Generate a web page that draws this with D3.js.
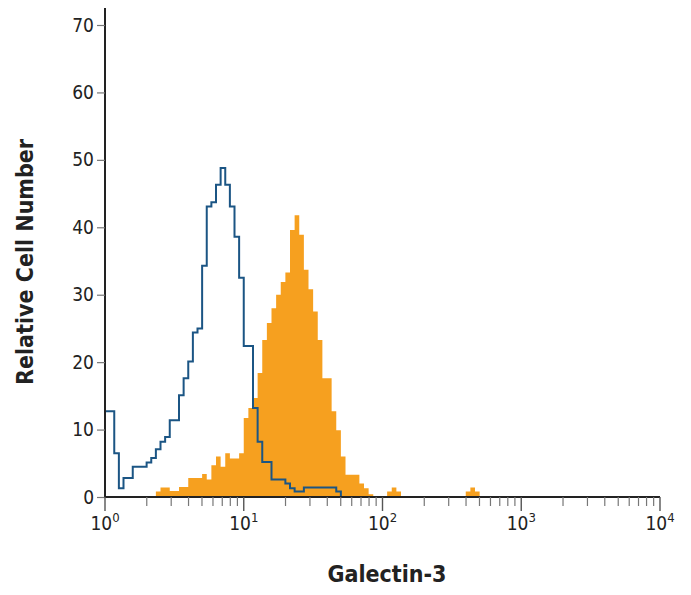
<!DOCTYPE html>
<html><head><meta charset="utf-8">
<script src="https://cdn.jsdelivr.net/npm/d3@7"></script>
<style>body{margin:0;background:#fff}</style></head>
<body><svg id="c" width="691" height="595"></svg>
<script>
const binsPerDecade = 30;
const yTicks = [0,10,20,30,40,50,60,70];
const xTickExps = [0,1,2,3,4];
const isotype = [12.7,12.7,6.5,1.3,2.8,2.8,4.5,4.5,4.5,5.1,5.8,7.1,8.2,8.9,11.4,11.4,15.1,17.6,20.1,24.4,25.0,34.3,43.1,43.7,46.3,48.8,46.3,43.1,38.6,32.5,22.4,22.4,13.2,8.2,5.2,5.2,2.6,2.6,2.6,2.0,1.3,0.8,0.8,1.4,1.4,1.4,1.4,1.4,1.4,1.4,0.8];
const galectin = [0,0,0,0,0,0,0,0,0,0,0,0.8,1.4,1.4,0.9,0.9,1.5,1.5,2.8,2.8,2.8,3.4,2.6,4.7,6.0,4.5,6.5,5.7,5.7,6.5,11.7,13.2,14.7,18.4,23.3,25.8,28,30,31.9,33.3,39.6,41.8,38.9,33.7,30.8,27.5,23.3,17.6,17.6,12.7,9.9,6.0,3.3,3.3,3.3,2.0,1.3,0.4,0,0,0,0.8,1.4,0.8,0,0,0,0,0,0,0,0,0,0,0,0,0,0,0.8,1.4,0.8];
const nBins = 120;
const pad = a => a.concat(new Array(nBins - a.length).fill(0));

const svg = d3.select("#c");
const x = d3.scaleLog().domain([1,1e4]).range([105,660]);
const y = d3.scaleLinear().domain([0,70]).range([497,25]);
const font = "'DejaVu Sans Condensed','Liberation Sans Narrow','Liberation Sans',sans-serif";

function stepPts(arr){
  const pts=[];
  arr.forEach((v,i)=>{
    const a=Math.pow(10,i/binsPerDecade), b=Math.pow(10,(i+1)/binsPerDecade);
    pts.push([a,v],[b,v]);
  });
  return pts;
}
const g = pad(galectin), b = pad(isotype);
svg.append("path").attr("d", d3.area().x(d=>x(d[0])).y0(y(0)).y1(d=>y(d[1]))(stepPts(g)))
  .attr("fill","#f6a01f");
svg.append("path").attr("d", d3.line().x(d=>x(d[0])).y(d=>y(d[1]))(stepPts(b)))
  .attr("fill","none").attr("stroke","#1b5584").attr("stroke-width",2);

// y axis
const ya = svg.append("g").attr("transform","translate(105,0)")
  .call(d3.axisLeft(y).tickValues(yTicks).tickSize(8).tickFormat(d3.format("d")));
ya.select(".domain").attr("d","M0,8V497").attr("stroke","#222").attr("stroke-width",2);
ya.selectAll(".tick line").attr("stroke","#777").attr("stroke-width",1.2);
ya.selectAll("text").attr("font-family",font).attr("font-size",19).attr("fill","#222").attr("x",-11);

// x axis
const minor = [];
for(let e=0;e<4;e++) for(let k=2;k<=9;k++) minor.push(k*Math.pow(10,e));
const xa = svg.append("g").attr("transform","translate(0,497)");
xa.append("line").attr("x1",105).attr("x2",660).attr("stroke","#222").attr("stroke-width",2);
xa.selectAll(".mn").data(minor).join("line").attr("x1",d=>x(d)).attr("x2",d=>x(d))
  .attr("y1",0).attr("y2",9).attr("stroke","#777").attr("stroke-width",1.2);
xa.selectAll(".mj").data(xTickExps).join("line").attr("x1",d=>x(Math.pow(10,d))).attr("x2",d=>x(Math.pow(10,d)))
  .attr("y1",0).attr("y2",14).attr("stroke","#555").attr("stroke-width",1.4);
const lab = xa.selectAll(".lb").data(xTickExps).join("text")
  .attr("x",d=>x(Math.pow(10,d))).attr("y",33).attr("text-anchor","middle")
  .attr("font-family",font).attr("font-size",19).attr("fill","#222");
lab.append("tspan").text("10");
lab.append("tspan").attr("dy",-8).attr("font-size",13).text(d=>d);

svg.append("text").attr("x",387).attr("y",582).attr("text-anchor","middle")
  .attr("font-family",font).attr("font-weight","bold").attr("font-size",23).attr("fill","#222").text("Galectin-3");
svg.append("text").attr("transform","translate(33,262) rotate(-90)").attr("text-anchor","middle")
  .attr("font-family",font).attr("font-weight","bold").attr("font-size",23).attr("fill","#222").text("Relative Cell Number");
</script></body></html>
